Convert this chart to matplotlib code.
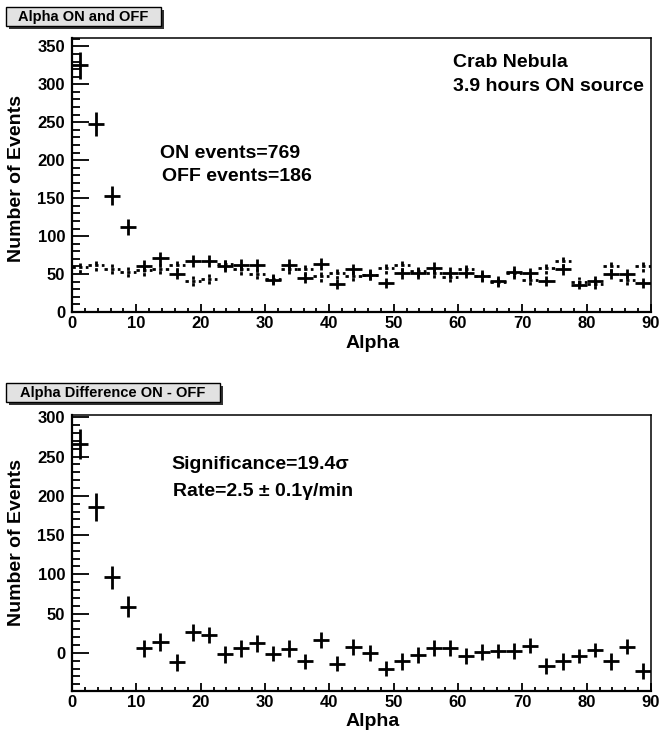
import numpy as np
import matplotlib
matplotlib.use("Agg")
import matplotlib.pyplot as plt
from matplotlib.patches import Rectangle
from matplotlib.ticker import MultipleLocator

plt.rcParams['font.family'] = ['Liberation Sans', 'DejaVu Sans']
plt.rcParams['font.weight'] = 'bold'

# 36 alpha bins of 2.5 deg, 0..90
bin_width = 2.5
alpha = np.arange(36) * bin_width + bin_width / 2

on_counts = [325, 248, 153, 112, 61, 71, 50, 67, 67, 61, 62, 62, 42, 62, 45, 63, 37, 56,
             49, 38, 51, 51, 58, 52, 52, 48, 41, 53, 51, 41, 56, 36, 41, 50, 50, 38]
off_counts = [59, 62, 57, 53, 55, 57, 62, 41, 44, 63, 56, 50, 43, 57, 56, 47, 51, 48,
              49, 58, 62, 54, 52, 46, 56, 47, 39, 51, 42, 58, 67, 40, 37, 61, 42, 61]
diff_counts = [266, 186, 96, 59, 6, 14, -12, 26, 23, -2, 6, 12, -1, 5, -11, 16, -14, 8,
               0, -20, -11, -3, 6, 6, -4, 1, 2, 2, 9, -17, -11, -4, 4, -11, 8, -23]

on = np.array(on_counts, dtype=float)
off = np.array(off_counts, dtype=float)
diff = np.array(diff_counts, dtype=float)

W, H = 663, 737
fig = plt.figure(figsize=(W / 100, H / 100), dpi=100)


def px_axes(left, top, right, bottom):
    return fig.add_axes([left / W, 1 - bottom / H, (right - left) / W, (bottom - top) / H])


def ftext(x, y, s, **kw):
    fig.text(x / W, 1 - y / H, s, fontweight='bold', **kw)


def title_box(x0, y0, x1, y1, label):
    sh = 3
    fig.patches.append(Rectangle((x0 / W + sh / W, 1 - (y1 + sh) / H), (x1 - x0) / W, (y1 - y0) / H,
                                 transform=fig.transFigure, facecolor='#333333', edgecolor='none'))
    fig.patches.append(Rectangle((x0 / W, 1 - y1 / H), (x1 - x0) / W, (y1 - y0) / H,
                                 transform=fig.transFigure, facecolor='#e2e2e2', edgecolor='black', lw=1.0))
    ftext((x0 + x1) / 2, (y0 + y1) / 2 + 1, label, fontsize=10.5, ha='center', va='center')


def style_axes(ax, ymin, ymax):
    ax.set_xlim(0, 90)
    ax.set_ylim(ymin, ymax)
    ax.xaxis.set_major_locator(MultipleLocator(10))
    ax.xaxis.set_minor_locator(MultipleLocator(2))
    ax.yaxis.set_major_locator(MultipleLocator(50))
    ax.yaxis.set_minor_locator(MultipleLocator(10))
    ax.tick_params(axis='both', which='both', direction='in', top=False, right=False,
                   labelsize=12, width=1.3, pad=5)
    ax.tick_params(axis='x', which='major', pad=3)
    ax.tick_params(axis='y', which='major', length=12)
    ax.tick_params(axis='y', which='minor', length=6)
    ax.tick_params(axis='x', which='major', length=6)
    ax.tick_params(axis='x', which='minor', length=3)
    for lab in ax.get_xticklabels() + ax.get_yticklabels():
        lab.set_fontweight('bold')
    ax.spines['left'].set_linewidth(1.6)
    ax.spines['bottom'].set_linewidth(1.6)
    ax.spines['top'].set_linewidth(1.1)
    ax.spines['right'].set_linewidth(1.1)


# top panel: ON and OFF alpha
ax1 = px_axes(72, 38, 651, 312)
ax1.errorbar(alpha, on, xerr=bin_width / 2, yerr=np.sqrt(on), fmt='none',
             ecolor='black', elinewidth=2.0, capsize=0)
eb = ax1.errorbar(alpha, off, xerr=bin_width / 2, yerr=np.sqrt(off), fmt='none',
                  ecolor='black', elinewidth=2.0, capsize=0)
for lc in eb.lines[2]:
    lc.set_linestyle((0, (1.2, 1.2)))
style_axes(ax1, 0, 361)

title_box(6, 7, 161, 26, 'Alpha ON and OFF')
ftext(453, 67, 'Crab Nebula', fontsize=14)
ftext(453, 91, '3.9 hours ON source', fontsize=14)
ftext(160, 158, 'ON events=769', fontsize=14)
ftext(162, 181, 'OFF events=186', fontsize=14)
ftext(373, 348, 'Alpha', fontsize=14, ha='center')
ftext(17, 179, 'Number of Events', fontsize=14, rotation=90, ha='center', va='center')

# bottom panel: ON - OFF
ax2 = px_axes(72, 415, 651, 690.5)
ax2.errorbar(alpha, diff, xerr=bin_width / 2, yerr=np.sqrt(on + off), fmt='none',
             ecolor='black', elinewidth=2.0, capsize=0)
style_axes(ax2, -48, 303)

title_box(6, 383, 220, 402, 'Alpha Difference ON - OFF')
ftext(171, 469, 'Significance=19.4σ', fontsize=14)
ftext(173, 496, 'Rate=2.5 ± 0.1γ/min', fontsize=14)
ftext(373, 726, 'Alpha', fontsize=14, ha='center')
ftext(17, 543, 'Number of Events', fontsize=14, rotation=90, ha='center', va='center')

fig.savefig('out.png', dpi=100)
